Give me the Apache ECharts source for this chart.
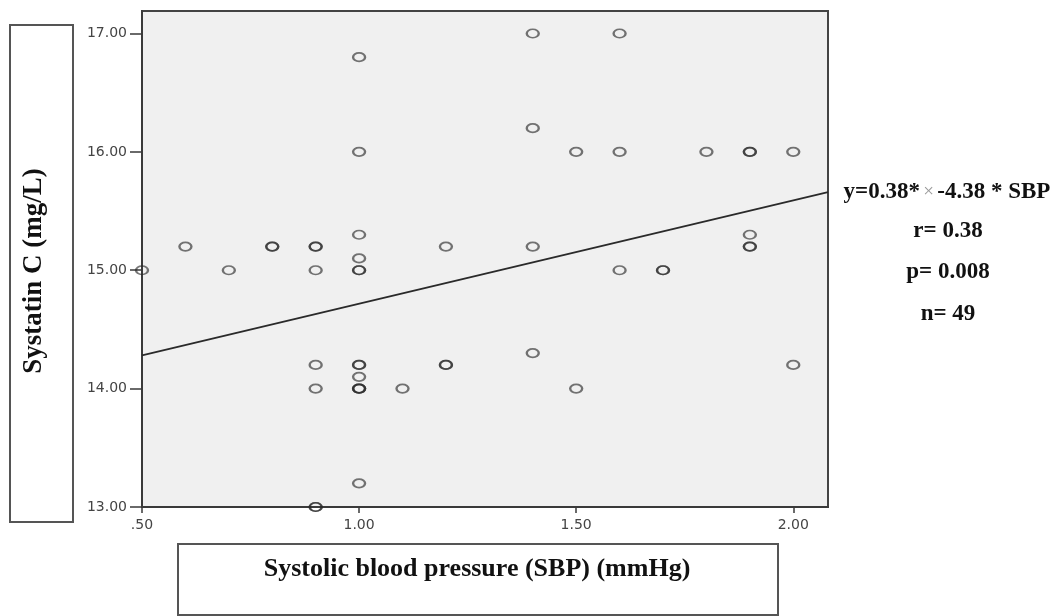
<!DOCTYPE html>
<html>
<head>
<meta charset="utf-8">
<script src="https://cdn.jsdelivr.net/npm/echarts@6/dist/echarts.min.js"></script>
<style>
  html, body { margin: 0; padding: 0; background: #fff; }
  #chart { width: 1064px; height: 616px; }
</style>
</head>
<body>
<div id="chart"></div>
<script>
// SBP (x) and cystatin C (y), repeated values drawn twice
const sbp = [
  0.5, 0.6, 0.7, 0.8, 0.8,
  0.9, 0.9, 0.9, 0.9, 0.9, 0.9, 0.9,
  1.0, 1.0, 1.0, 1.0, 1.0, 1.0, 1.0, 1.0, 1.0, 1.0, 1.0, 1.0, 1.0,
  1.1, 1.2, 1.2, 1.2,
  1.4, 1.4, 1.4, 1.4,
  1.5, 1.5,
  1.6, 1.6, 1.6,
  1.7, 1.7,
  1.8,
  1.9, 1.9, 1.9, 1.9, 1.9,
  2.0, 2.0
];
const cystatin = [
  15.0, 15.2, 15.0, 15.2, 15.2,
  15.2, 15.2, 15.0, 14.2, 14.0, 13.0, 13.0,
  16.8, 16.0, 15.3, 15.1, 15.0, 15.0, 14.2, 14.2, 14.1, 14.0, 14.0, 14.0, 13.2,
  14.0, 15.2, 14.2, 14.2,
  17.0, 16.2, 15.2, 14.3,
  16.0, 14.0,
  17.0, 16.0, 15.0,
  15.0, 15.0,
  16.0,
  16.0, 16.0, 15.3, 15.2, 15.2,
  16.0, 14.2
];

// fit line end points (at the left and right edge of the plot)
const fitX = [0.5, 2.08];
const fitY = [14.28, 15.66];

const xTicks = [0.5, 1.0, 1.5, 2.0];
const yTicks = [13, 14, 15, 16, 17];

const statLines = ["r= 0.38", "p= 0.008", "n= 49"];

const points = sbp.map((x, i) => [x, cystatin[i]]);
const fitData = fitX.map((x, i) => [x, fitY[i]]);

const serif = "'Liberation Serif', 'Times New Roman', serif";

const chart = echarts.init(document.getElementById("chart"));

const option = {
  backgroundColor: "#fff",
  animation: false,
  grid: {
    left: 142,
    top: 11,
    width: 686,
    height: 496,
    show: true,
    backgroundColor: "#f0f0f0",
    borderColor: "#444",
    borderWidth: 2,
  },
  xAxis: {
    type: "value",
    min: 0.5,
    max: 2.08,
    splitLine: { show: false },
    axisLine: { onZero: false, lineStyle: { color: "#3a3a3a", width: 2 } },
    axisTick: {
      length: 6,
      customValues: xTicks,
      lineStyle: { color: "#3a3a3a", width: 1.5 },
    },
    axisLabel: {
      customValues: xTicks,
      margin: 11,
      color: "#444",
      fontFamily: "'DejaVu Sans', sans-serif",
      fontSize: 14,
      formatter: (v) => v.toFixed(2).replace(/^0/, ""),
    },
  },
  yAxis: {
    type: "value",
    min: 13,
    max: 17.19,
    splitLine: { show: false },
    axisLine: { onZero: false, lineStyle: { color: "#3a3a3a", width: 2 } },
    axisTick: {
      length: 12,
      customValues: yTicks,
      lineStyle: { color: "#3a3a3a", width: 1.5 },
    },
    axisLabel: {
      customValues: yTicks,
      margin: 15,
      color: "#444",
      fontFamily: "'DejaVu Sans', sans-serif",
      fontSize: 14,
      formatter: (v) => v.toFixed(2),
    },
  },
  series: [
    {
      type: "line",
      data: fitData,
      showSymbol: false,
      lineStyle: { color: "#2a2a2a", width: 1.8 },
      z: 3,
    },
    {
      type: "scatter",
      data: points,
      symbol: "circle",
      symbolSize: [12, 8.5],
      itemStyle: {
        color: "rgba(0,0,0,0)",
        borderColor: "rgba(40,40,40,0.8)",
        borderWidth: 2,
      },
      z: 4,
    },
  ],
  graphic: [
    // y title box
    {
      type: "rect",
      shape: { x: 10, y: 25, width: 63, height: 497 },
      style: { fill: "#fff", stroke: "#555", lineWidth: 2 },
    },
    {
      type: "text",
      x: 34,
      y: 271,
      rotation: Math.PI / 2,
      style: {
        text: "Systatin C (mg/L)",
        font: "bold 27px " + serif,
        fill: "#111",
        align: "center",
        verticalAlign: "middle",
      },
    },
    // x title box
    {
      type: "rect",
      shape: { x: 178, y: 544, width: 600, height: 71 },
      style: { fill: "#fff", stroke: "#555", lineWidth: 2 },
    },
    {
      type: "text",
      x: 477,
      y: 569,
      style: {
        text: "Systolic blood pressure (SBP) (mmHg)",
        font: "bold 26px " + serif,
        fill: "#111",
        align: "center",
        verticalAlign: "middle",
      },
    },
    // equation and stats
    {
      type: "text",
      x: 947,
      y: 192,
      style: {
        text: "{b|y=0.38*} {g|×} {b|-4.38 * SBP}",
        align: "center",
        verticalAlign: "middle",
        rich: {
          b: { font: "bold 23px " + serif, fill: "#111" },
          g: { font: "19px " + serif, fill: "#999" },
        },
      },
    },
    ...statLines.map((t, i) => ({
      type: "text",
      x: 948,
      y: 231 + i * 41.5,
      style: {
        text: t,
        font: "bold 23px " + serif,
        fill: "#111",
        align: "center",
        verticalAlign: "middle",
      },
    })),
  ],
};

chart.setOption(option);
</script>
</body>
</html>
